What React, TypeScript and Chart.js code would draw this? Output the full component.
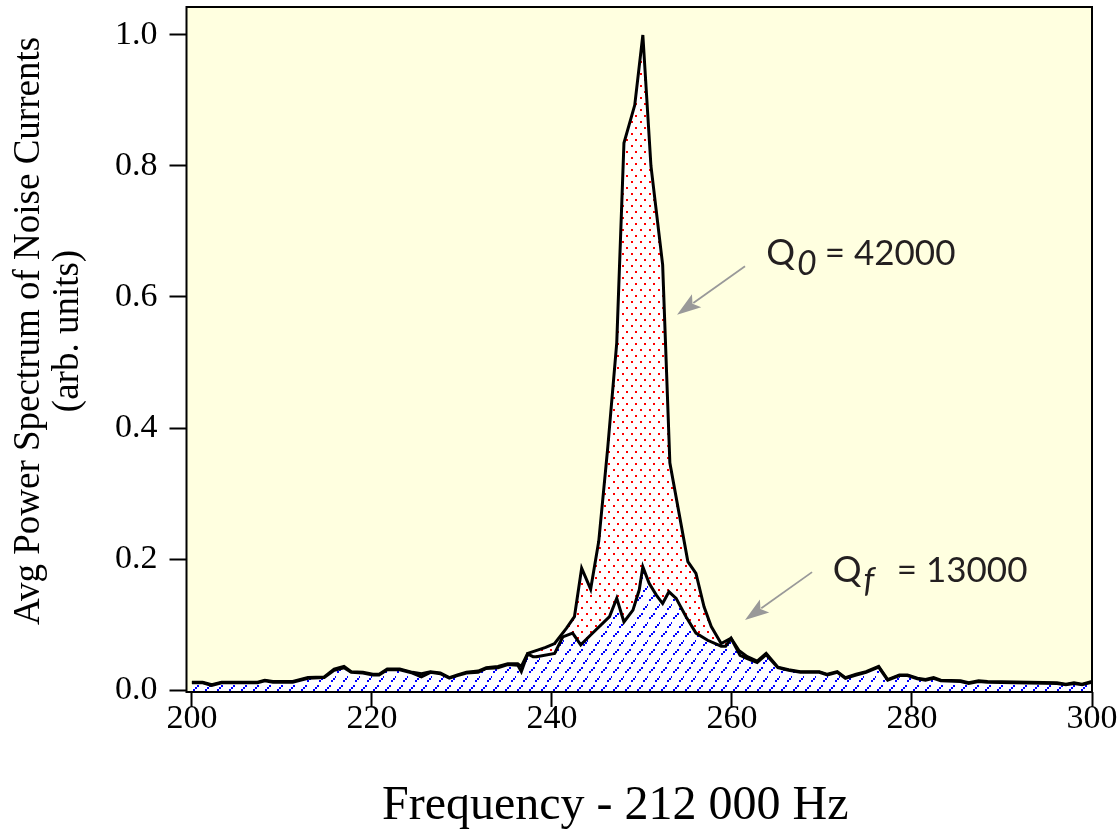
import React, { useEffect, useRef } from "react";
import { Chart, registerables } from "chart.js";

Chart.register(...registerables);

// ---- data ----
const freqQ0 = [
  200.0, 201.2, 202.2, 203.3, 207.3, 208.1, 209.0, 211.2, 212.9, 214.7, 215.8, 216.9, 217.7, 219.0,
  220.1, 220.8, 221.7, 223.1, 224.5, 225.5, 226.5, 227.6, 228.6, 229.5, 230.5, 231.8, 232.7, 234.0,
  235.1, 236.2, 236.6, 237.3, 238.4, 239.3, 240.3, 241.6, 242.5, 243.3, 244.3, 245.2, 246.2, 247.2,
  248.0, 249.2, 250.1, 251.0, 252.3, 253.1, 255.1, 256.0, 256.9, 257.7, 258.8, 259.9, 260.8, 261.7,
  262.8, 263.8, 265.1, 266.3, 267.6, 269.7, 270.6, 271.7, 272.6, 273.8, 274.9, 276.3, 277.3, 278.6,
  279.5, 280.6, 281.5, 282.4, 283.2, 285.4, 286.3, 287.4, 288.4, 296.1, 297.1, 298.0, 298.9, 300.0,
];
const powerQ0 = [
  0.012, 0.012, 0.008, 0.012, 0.012, 0.015, 0.013, 0.013, 0.019, 0.020, 0.032, 0.036, 0.028, 0.027,
  0.024, 0.024, 0.032, 0.032, 0.027, 0.025, 0.028, 0.026, 0.019, 0.023, 0.027, 0.029, 0.034, 0.036,
  0.040, 0.040, 0.036, 0.056, 0.061, 0.065, 0.071, 0.094, 0.112, 0.186, 0.154, 0.227, 0.370, 0.530,
  0.835, 0.893, 1.000, 0.800, 0.649, 0.347, 0.196, 0.178, 0.127, 0.097, 0.071, 0.079, 0.060, 0.051,
  0.044, 0.056, 0.035, 0.031, 0.028, 0.028, 0.024, 0.028, 0.019, 0.024, 0.028, 0.036, 0.016, 0.023,
  0.023, 0.018, 0.016, 0.019, 0.015, 0.014, 0.011, 0.014, 0.013, 0.011, 0.009, 0.011, 0.009, 0.013,
];
const freqQf = [
  200.0, 201.2, 202.2, 203.3, 207.3, 208.1, 209.0, 211.2, 212.9, 214.7, 215.8, 216.9, 217.7, 219.0,
  220.1, 220.8, 221.7, 223.1, 224.5, 225.5, 226.5, 227.6, 228.6, 229.5, 230.5, 231.8, 232.7, 234.0,
  235.1, 236.2, 236.6, 237.3, 237.9, 238.3, 240.3, 241.2, 242.3, 243.2, 244.3, 246.4, 247.2, 248.0,
  249.0, 249.7, 250.1, 250.8, 251.6, 252.3, 253.0, 253.8, 254.9, 256.0, 257.3, 258.8, 259.3, 259.9,
  260.9, 261.7, 262.8, 263.8, 265.1, 266.3, 267.6, 269.7, 270.6, 271.7, 272.6, 273.8, 274.9, 276.3,
  277.3, 278.6, 279.5, 280.6, 281.5, 282.4, 283.2, 285.4, 286.3, 287.4, 288.4, 296.1, 297.1, 298.0,
  298.9, 300.0,
];
const powerQf = [
  0.011, 0.011, 0.007, 0.011, 0.011, 0.014, 0.012, 0.012, 0.018, 0.019, 0.030, 0.034, 0.027, 0.026,
  0.023, 0.023, 0.031, 0.031, 0.026, 0.020, 0.027, 0.025, 0.018, 0.022, 0.026, 0.027, 0.033, 0.034,
  0.039, 0.038, 0.028, 0.055, 0.051, 0.051, 0.056, 0.081, 0.087, 0.069, 0.084, 0.112, 0.140, 0.104,
  0.122, 0.153, 0.188, 0.163, 0.145, 0.132, 0.150, 0.140, 0.112, 0.087, 0.076, 0.067, 0.067, 0.079,
  0.053, 0.048, 0.042, 0.054, 0.034, 0.030, 0.027, 0.027, 0.023, 0.027, 0.018, 0.023, 0.027, 0.035,
  0.015, 0.022, 0.022, 0.017, 0.015, 0.018, 0.014, 0.013, 0.010, 0.013, 0.012, 0.010, 0.008, 0.010,
  0.008, 0.012,
];
const xTickValues = [200, 220, 240, 260, 280, 300];
const yTickValues = [0, 0.2, 0.4, 0.6, 0.8, 1.0];
const xAxisTitle = "Frequency - 212 000 Hz    ";
const yAxisTitle = ["    Avg Power Spectrum of Noise Currents", "    (arb. units)"];

// annotation texts and their anchors (data units)
const noteMain = ["Q", "Q"];
const noteSub = ["0", "f"];
const noteRest = ["= 42000", "= 13000"];
const noteAt = [[263.8, 0.649], [271.2, 0.165]];
const noteRestX = [270.3, 278.3];
const arrowFrom = [[261.45, 0.647], [268.9, 0.18]];
const arrowTo = [[253.9, 0.573], [261.45, 0.107]];

function makeDotPattern(ctx: CanvasRenderingContext2D) {
  const c = document.createElement("canvas");
  c.width = 9;
  c.height = 12;
  const g = c.getContext("2d")!;
  g.fillStyle = "#ffffff";
  g.fillRect(0, 0, 9, 12);
  g.fillStyle = "#ff0000";
  g.fillRect(1, 1, 2, 2);
  g.fillRect(5, 7, 2, 2);
  return ctx.createPattern(c, "repeat")!;
}

function makeDashPattern(ctx: CanvasRenderingContext2D) {
  const c = document.createElement("canvas");
  c.width = 12;
  c.height = 18;
  const g = c.getContext("2d")!;
  g.fillStyle = "#ffffff";
  g.fillRect(0, 0, 12, 18);
  g.fillStyle = "#0000ff";
  const mark = (x: number, y: number) => {
    g.fillRect(x, y + 4, 2, 2);
    g.fillRect(x + 2, y + 2, 2, 2);
    g.fillRect(x + 4, y, 2, 2);
  };
  mark(1, 1);
  mark(7, 10);
  return ctx.createPattern(c, "repeat")!;
}

const plotBackground = {
  id: "plotBackground",
  beforeDraw(chart: any) {
    const { ctx, chartArea: a } = chart;
    ctx.save();
    ctx.fillStyle = "#FFFFE0";
    ctx.fillRect(a.left, a.top, a.right - a.left, a.bottom - a.top);
    ctx.restore();
  },
};

const plotFrame = {
  id: "plotFrame",
  afterDatasetsDraw(chart: any) {
    const { ctx, chartArea: a } = chart;
    ctx.save();
    ctx.strokeStyle = "#000";
    ctx.lineWidth = 2;
    ctx.strokeRect(a.left, a.top, a.right - a.left, a.bottom - a.top);
    ctx.restore();
  },
};

const notes = {
  id: "notes",
  afterDraw(chart: any) {
    const { ctx } = chart;
    const xs = chart.scales.x;
    const ys = chart.scales.y;
    ctx.save();
    for (let i = 0; i < noteMain.length; i++) {
      const x1 = xs.getPixelForValue(arrowFrom[i][0]);
      const y1 = ys.getPixelForValue(arrowFrom[i][1]);
      const x2 = xs.getPixelForValue(arrowTo[i][0]);
      const y2 = ys.getPixelForValue(arrowTo[i][1]);
      const ang = Math.atan2(y2 - y1, x2 - x1);
      const headLen = 24;
      const headHalf = 8;
      const bx = x2 - headLen * Math.cos(ang);
      const by = y2 - headLen * Math.sin(ang);
      ctx.strokeStyle = "#999999";
      ctx.fillStyle = "#999999";
      ctx.lineWidth = 1.8;
      ctx.beginPath();
      ctx.moveTo(x1, y1);
      ctx.lineTo(bx + 4 * Math.cos(ang), by + 4 * Math.sin(ang));
      ctx.stroke();
      ctx.beginPath();
      ctx.moveTo(x2, y2);
      ctx.lineTo(bx + headHalf * Math.sin(ang), by - headHalf * Math.cos(ang));
      ctx.lineTo(bx + 5 * Math.cos(ang), by + 5 * Math.sin(ang));
      ctx.lineTo(bx - headHalf * Math.sin(ang), by + headHalf * Math.cos(ang));
      ctx.closePath();
      ctx.fill();

      let tx = xs.getPixelForValue(noteAt[i][0]);
      const ty = ys.getPixelForValue(noteAt[i][1]);
      ctx.fillStyle = "#231F20";
      ctx.textBaseline = "alphabetic";
      ctx.textAlign = "left";
      ctx.font = "36px Lato";
      ctx.fillText(noteMain[i], tx, ty);
      tx += ctx.measureText(noteMain[i]).width + 2;
      ctx.font = "italic 34px Lato";
      ctx.fillText(noteSub[i], tx, ty + 10);
      ctx.font = "35px Lato";
      ctx.fillText(noteRest[i], xs.getPixelForValue(noteRestX[i]), ty);
    }
    ctx.restore();
  },
};

export default function App() {
  const canvasRef = useRef<HTMLCanvasElement>(null);

  useEffect(() => {
    const canvas = canvasRef.current!;
    const ctx = canvas.getContext("2d")!;
    const redFill = makeDotPattern(ctx);
    const blueFill = makeDashPattern(ctx);

    const chart = new Chart(canvas, {
      type: "line",
      data: {
        datasets: [
          {
            label: "Qf = 13000",
            data: freqQf.map((f, i) => ({ x: f, y: powerQf[i] })),
            borderColor: "#000",
            borderWidth: 3,
            backgroundColor: blueFill,
            fill: "start",
            pointRadius: 0,
            tension: 0,
          },
          {
            label: "Q0 = 42000",
            data: freqQ0.map((f, i) => ({ x: f, y: powerQ0[i] })),
            borderColor: "#000",
            borderWidth: 3,
            backgroundColor: redFill,
            fill: "start",
            pointRadius: 0,
            tension: 0,
          },
        ],
      },
      options: {
        animation: false,
        responsive: false,
        devicePixelRatio: 1,
        layout: { padding: { top: 7, right: 28, bottom: 0, left: 0 } },
        plugins: { legend: { display: false }, tooltip: { enabled: false } },
        scales: {
          x: {
            type: "linear",
            min: 199.4,
            max: 300,
            afterBuildTicks: (s: any) => {
              s.ticks = xTickValues.map((v) => ({ value: v }));
            },
            afterFit: (s: any) => {
              s.height = 138;
              s.paddingLeft = 0;
              s.paddingRight = 0;
            },
            ticks: {
              autoSkip: false,
              maxRotation: 0,
              color: "#000",
              padding: -2,
              font: { family: "Liberation Serif", size: 34, lineHeight: 0.8 },
              callback: (v: any) => String(v),
            },
            grid: {
              drawOnChartArea: false,
              drawTicks: true,
              tickLength: 15,
              tickWidth: 2,
              tickColor: "#000",
            },
            border: { display: false },
            title: {
              display: true,
              text: xAxisTitle,
              color: "#000",
              font: { family: "Liberation Serif", size: 48, lineHeight: 1.0 },
              padding: { top: 0, bottom: 0 },
            },
          },
          y: {
            type: "linear",
            min: -0.003,
            max: 1.0427,
            afterBuildTicks: (s: any) => {
              s.ticks = yTickValues.map((v) => ({ value: v }));
            },
            afterFit: (s: any) => {
              s.width = 186.5;
              s.paddingTop = 0;
              s.paddingBottom = 0;
            },
            ticks: {
              color: "#000",
              padding: 12,
              font: { family: "Liberation Serif", size: 34 },
              callback: (v: any) => Number(v).toFixed(1),
            },
            grid: {
              drawOnChartArea: false,
              drawTicks: true,
              tickLength: 17,
              tickWidth: 2,
              tickColor: "#000",
            },
            border: { display: false },
            title: {
              display: true,
              text: yAxisTitle,
              color: "#000",
              font: { family: "Liberation Serif", size: 37, lineHeight: 1.05 },
              padding: { top: 10, bottom: 0 },
            },
          },
        },
      },
      plugins: [plotBackground, plotFrame, notes],
    });

    return () => chart.destroy();
  }, []);

  return (
    <div style={{ position: "absolute", left: 0, top: 0, width: 1120, height: 830, background: "#fff" }}>
      <canvas ref={canvasRef} width={1120} height={830} style={{ display: "block" }} />
    </div>
  );
}
